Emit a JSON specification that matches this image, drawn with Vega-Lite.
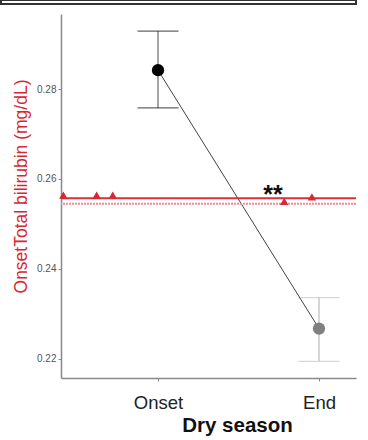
{
  "$schema": "https://vega.github.io/schema/vega-lite/v6.json",
  "padding": {"left": 0, "top": -2, "right": 0, "bottom": 0},
  "background": "white",
  "config": {"view": {"stroke": null}, "font": "Liberation Sans", "axis": {"grid": false}},
  "datasets": {
    "means": [
      {"season": "Onset", "pos": 1, "mean": 0.2842, "lo": 0.2758, "hi": 0.2929},
      {"season": "End", "pos": 2, "mean": 0.2267, "lo": 0.2194, "hi": 0.2336}
    ],
    "red": [
      {"pos": 0.412, "val": 0.2564},
      {"pos": 0.619, "val": 0.2564},
      {"pos": 0.719, "val": 0.2564},
      {"pos": 1.784, "val": 0.2550},
      {"pos": 1.956, "val": 0.2560}
    ],
    "redlines": [
      {"kind": "upper", "val": 0.2557},
      {"kind": "lower", "val": 0.2545}
    ],
    "note": [{"pos": 1.714, "val": 0.2565, "label": "**"}]
  },
  "bounds": "flush",
  "spacing": 10,
  "vconcat": [
    {
      "width": 355,
      "height": 4,
      "view": {"stroke": "#333", "strokeWidth": 2},
      "data": {"values": [{}]},
      "mark": {"type": "point", "opacity": 0}
    },
    {
      "bounds": "flush",
      "spacing": 0,
      "hconcat": [
        {
          "width": 60,
          "height": 364,
          "data": {"values": [{}]},
          "mark": {"type": "point", "opacity": 0}
        },
        {
          "width": 295,
          "height": 364,
          "resolve": {"scale": {"color": "independent"}},
          "encoding": {
            "x": {
              "field": "pos", "type": "quantitative",
              "scale": {"domain": [0.3975, 2.2298], "nice": false, "zero": false},
              "axis": {
                "values": [1, 2],
                "labelExpr": "datum.value == 1 ? 'Onset' : 'End'",
                "title": "Dry season",
                "titleFontSize": 20.5, "titleFontWeight": "bold", "titleColor": "#111",
                "titleX": 176, "titleY": 47, "titleBaseline": "middle", "titleAlign": "center",
                "labelFontSize": 18.5, "labelColor": "#222", "labelPadding": 12,
                "domainColor": "#888", "domainWidth": 1.5,
                "tickColor": "#888", "tickSize": 3, "labelFlush": false
              }
            }
          },
          "layer": [
            {
              "data": {"name": "means"},
              "mark": {"type": "rule", "strokeWidth": 1.5},
              "encoding": {
                "y": {
                  "field": "lo", "type": "quantitative",
                  "scale": {"domain": [0.2157, 0.2967], "nice": false, "zero": false},
                  "axis": {
                    "values": [0.22, 0.24, 0.26, 0.28], "format": ".2f",
                    "title": "OnsetTotal bilirubin (mg/dL)",
                    "titleColor": "#d62833", "titleFontSize": 17.5, "titleFontWeight": "normal",
                    "titleX": -35, "titleY": 172, "titleBaseline": "alphabetic", "titleAlign": "center", "titleAngle": -90,
                    "labelFontSize": 10, "labelColor": "#555", "labelPadding": 2,
                    "domainColor": "#888", "domainWidth": 1.5,
                    "tickColor": "#888", "tickSize": 3
                  }
                },
                "y2": {"field": "hi"},
                "color": {"field": "season", "type": "nominal", "scale": {"domain": ["Onset", "End"], "range": ["#888888", "#c8c8c8"]}, "legend": null}
              }
            },
            {
              "data": {"name": "means"},
              "mark": {"type": "tick", "orient": "horizontal", "size": 41, "thickness": 1.3},
              "encoding": {
                "y": {"field": "lo", "type": "quantitative"},
                "color": {"field": "season", "type": "nominal", "scale": {"domain": ["Onset", "End"], "range": ["#222222", "#c8c8c8"]}, "legend": null}
              }
            },
            {
              "data": {"name": "means"},
              "mark": {"type": "tick", "orient": "horizontal", "size": 41, "thickness": 1.3},
              "encoding": {
                "y": {"field": "hi", "type": "quantitative"},
                "color": {"field": "season", "type": "nominal", "scale": {"domain": ["Onset", "End"], "range": ["#222222", "#c8c8c8"]}, "legend": null}
              }
            },
            {
              "data": {"name": "means"},
              "mark": {"type": "line", "color": "#111", "strokeWidth": 0.8},
              "encoding": {
                "y": {"field": "mean", "type": "quantitative"},
                "order": {"field": "pos"}
              }
            },
            {
              "data": {"name": "means"},
              "mark": {"type": "circle", "size": 150, "opacity": 1},
              "encoding": {
                "y": {"field": "mean", "type": "quantitative"},
                "color": {"field": "season", "type": "nominal", "scale": {"domain": ["Onset", "End"], "range": ["#000000", "#808080"]}, "legend": null}
              }
            },
            {
              "data": {"name": "redlines"},
              "mark": {"type": "rule", "strokeWidth": 2},
              "encoding": {
                "x": null,
                "y": {"field": "val", "type": "quantitative"},
                "color": {"field": "kind", "type": "nominal", "scale": {"domain": ["upper", "lower"], "range": ["#d8323c", "#ec8d93"]}, "legend": null},
                "strokeDash": {"field": "kind", "type": "nominal", "scale": {"domain": ["upper", "lower"], "range": [[1, 0], [2, 1]]}, "legend": null}
              }
            },
            {
              "data": {"name": "red"},
              "mark": {"type": "point", "shape": "triangle-up", "filled": true, "size": 70, "opacity": 1, "color": "#d62833"},
              "encoding": {
                "y": {"field": "val", "type": "quantitative"}
              }
            },
            {
              "data": {"name": "note"},
              "mark": {"type": "text", "fontSize": 25, "fontWeight": "bold", "color": "#111"},
              "encoding": {
                "y": {"field": "val", "type": "quantitative"},
                "text": {"field": "label"}
              }
            }
          ]
        }
      ]
    }
  ]
}
